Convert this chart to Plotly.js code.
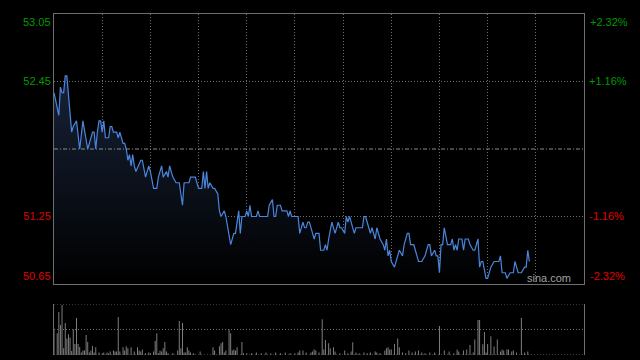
<!DOCTYPE html>
<html>
<head>
<meta charset="utf-8">
<script src="https://cdn.plot.ly/plotly-3.0.1.min.js"></script>
<style>
html,body{margin:0;padding:0;background:#000;}
#chart{width:640px;height:360px;}
</style>
</head>
<body>
<div id="chart"></div>
<script>
// Intraday price (minute index from 09:30, HK session of 330 minutes)
const priceMin = [0,3,4,5,6,7,8,11,12,14,16,17,18,21,23,24,25,26,27,28,29,30,31,32,34,35,36,37,39,40,41,42,43,44,45,46,47,48,49,50,51,54,55,57,59,60,62,64,65,67,68,70,71,72,73,74,76,78,80,81,84,85,88,90,92,93,94,95,96,97,99,100,102,103,104,106,107,110,112,113,115,116,117,119,120,121,122,123,126,127,128,133,134,136,137,138,139,141,142,145,146,147,148,152,153,154,155,156,157,158,159,161,162,163,165,166,168,169,170,171,173,175,176,177,178,179,181,182,183,184,185,187,188,192,193,194,196,197,198,200,201,203,205,206,207,208,209,210,212,213,215,217,218,220,221,222,224,225,226,227,229,231,232,233,234,235,237,238,239,240,241,242,243,245,247,248,249,250,251,252,254,255,256,258,259,261,262,264,265,266,267,269,270,272,274,277,278,279,281,282,284,286,287,289,290,291,293,294,295,296];
const price = [52.35,52.15,52.40,52.35,52.35,52.50,52.50,52.00,52.05,52.10,51.85,52.00,52.10,51.85,51.95,52.00,52.00,51.85,52.00,52.10,52.10,52.00,52.10,51.95,51.95,52.05,52.05,52.00,52.00,51.95,52.00,51.95,51.90,51.90,51.85,51.75,51.80,51.70,51.80,51.70,51.65,51.75,51.75,51.60,51.70,51.65,51.50,51.50,51.60,51.70,51.60,51.65,51.60,51.70,51.65,51.60,51.55,51.55,51.35,51.55,51.55,51.60,51.60,51.50,51.50,51.65,51.50,51.65,51.50,51.55,51.50,51.50,51.45,51.30,51.25,51.30,51.25,51.00,51.10,51.10,51.30,51.10,51.25,51.25,51.30,51.25,51.35,51.25,51.25,51.30,51.25,51.25,51.35,51.40,51.25,51.25,51.35,51.35,51.30,51.30,51.25,51.30,51.25,51.25,51.10,51.15,51.20,51.15,51.15,51.20,51.20,51.10,51.05,51.10,51.10,50.95,50.95,51.00,50.95,51.05,51.20,51.10,51.15,51.20,51.15,51.15,51.10,51.25,51.20,51.25,51.20,51.10,51.15,51.15,51.25,51.25,51.15,51.10,51.15,51.05,51.15,51.05,51.00,50.95,51.05,50.90,50.95,50.85,50.80,50.85,50.95,50.90,51.00,51.10,51.10,51.00,51.00,50.95,50.90,50.85,50.85,50.90,50.95,51.00,51.00,50.90,50.95,50.90,50.90,50.75,51.00,51.00,51.15,51.00,51.00,51.05,50.95,51.00,50.95,51.05,51.05,50.95,51.05,51.05,51.00,50.95,50.95,51.05,50.80,50.85,50.85,50.70,50.70,50.80,50.85,50.85,50.90,50.75,50.75,50.70,50.75,50.75,50.85,50.75,50.75,50.75,50.80,50.80,50.95,50.85];

// Volume bars (minute index, volume)
const volMin = [0,2,3,4,5,6,7,8,9,10,11,12,13,14,15,16,17,18,19,20,21,22,23,24,25,26,28,30,31,33,34,35,37,38,39,40,41,43,44,45,46,48,50,52,53,54,55,57,59,60,62,63,64,65,66,67,68,69,70,71,74,77,78,79,80,81,82,83,84,85,87,91,99,100,103,104,105,106,107,109,110,111,112,113,114,117,118,120,123,126,129,132,135,138,141,144,147,150,152,153,155,157,160,161,162,163,165,167,168,169,171,172,174,175,178,181,183,185,186,188,190,193,195,197,200,201,203,206,207,208,209,210,212,214,215,217,219,221,223,225,227,229,231,234,237,240,243,246,249,251,252,255,257,259,261,262,264,265,267,268,269,270,272,274,276,278,279,280,282,283,285,286,288,291,293,295];
const volume = [100,85,169,118,196,26,125,65,81,69,16,100,43,145,43,31,10,18,18,78,51,10,18,35,10,30,10,7,10,10,7,14,18,14,14,149,14,30,18,34,26,30,14,30,18,14,22,7,10,7,14,55,85,7,18,14,26,51,14,7,7,18,133,26,125,10,10,30,18,10,7,14,30,18,34,46,51,10,18,100,85,18,22,18,30,51,7,7,7,10,7,10,7,10,7,10,7,7,10,18,18,10,10,14,22,18,10,140,22,59,46,26,30,14,7,18,7,14,50,10,7,10,7,10,14,10,7,18,26,30,22,22,43,65,30,10,7,18,10,14,18,10,7,10,10,114,18,14,7,22,14,18,22,39,10,61,137,137,42,90,10,43,74,33,61,14,22,18,22,22,14,18,10,145,10,14];

const prevClose = 51.85;
const priceRange = [50.65, 53.05];
const pctRange = [-2.32, 2.32];
const leftTickVals = [52.45, 51.25];
const leftTickText = ['52.45', '51.25'];
const rightTickVals = [1.16, -1.16];
const rightTickText = ['+1.16%', '-1.16%'];
const edgeLeftText = ['53.05', '50.65'];
const edgeRightText = ['+2.32%', '-2.32%'];
const timeTicks = [30,60,90,120,150,180,210,240,270,300];
const volRange = [0, 200];
const volTicks = [100];

const GREEN = '#009a00', RED = '#e00000';
const col = (t, c) => '<span style="color:' + c + '">' + t + '</span>';
const GRID = '#6e6e6e';
const DOT = '1px,2px';
const FONT = {family: 'Liberation Sans, Arial, sans-serif', size: 11};

const traces = [
  {
    x: priceMin, y: price, type: 'scatter', mode: 'lines',
    line: {color: '#4a86dc', width: 1.2},
    fill: 'tozeroy',
    fillgradient: {type: 'vertical', start: priceRange[0], stop: priceRange[1],
      colorscale: [[0, 'rgb(0,0,0)'], [1, 'rgb(30,44,72)']]},
    xaxis: 'x', yaxis: 'y', hoverinfo: 'skip'
  },
  {x: [], y: [], type: 'scatter', xaxis: 'x', yaxis: 'y2', hoverinfo: 'skip'},
  {
    x: volMin, y: volume, type: 'bar', width: 0.6,
    marker: {color: '#828282', line: {width: 0}},
    xaxis: 'x2', yaxis: 'y3', hoverinfo: 'skip'
  }
];

const layout = {
  width: 640, height: 360,
  paper_bgcolor: '#000', plot_bgcolor: '#000',
  margin: {l: 54, r: 56, t: 14, b: 5},
  showlegend: false,
  font: FONT,
  xaxis: {domain: [0, 1], range: [0, 330], anchor: 'y', tickvals: timeTicks,
    showticklabels: false, ticks: '', showgrid: true, gridcolor: GRID, griddash: DOT,
    zeroline: false, showline: true, mirror: true, linecolor: GRID, linewidth: 1},
  yaxis: {domain: [0.2082, 1], range: priceRange, tickvals: leftTickVals,
    ticktext: [col(leftTickText[0], GREEN), col(leftTickText[1], RED)],
    ticks: '', showgrid: true, gridcolor: GRID, griddash: DOT, zeroline: false,
    showline: true, mirror: true, linecolor: GRID, linewidth: 1, tickfont: FONT},
  yaxis2: {overlaying: 'y', side: 'right', anchor: 'x', range: pctRange, tickvals: rightTickVals,
    ticktext: [col(rightTickText[0], GREEN), col(rightTickText[1], RED)],
    ticks: '', showgrid: false, zeroline: false, showline: false, tickfont: FONT,
    ticklabelstandoff: 4},
  xaxis2: {domain: [0, 1], range: [0, 330], anchor: 'y3', showticklabels: false,
    ticks: '', showgrid: false, zeroline: false, showline: false},
  yaxis3: {domain: [0, 0.1496], range: volRange, anchor: 'x2', tickvals: volTicks,
    showticklabels: false, ticks: '', showgrid: true, gridcolor: GRID, griddash: DOT,
    zeroline: false, showline: true, mirror: true, linecolor: GRID, linewidth: 1},
  shapes: [
    {type: 'line', xref: 'x domain', yref: 'y', x0: 0, x1: 1, y0: prevClose, y1: prevClose,
      line: {color: '#8a8a8a', width: 1, dash: '4px,2px,1px,2px'}},
    {type: 'line', xref: 'x2 domain', yref: 'y3', x0: 0, x1: 1, y0: volRange[1], y1: volRange[1],
      line: {color: GRID, width: 1, dash: DOT}},
    {type: 'line', xref: 'x2 domain', yref: 'y3', x0: 0, x1: 1, y0: volRange[0], y1: volRange[0],
      line: {color: GRID, width: 1, dash: DOT}}
  ],
  annotations: [
    {xref: 'paper', yref: 'y', x: 0, y: priceRange[1], xanchor: 'right', yanchor: 'top',
      text: col(edgeLeftText[0], GREEN), showarrow: false, font: FONT, xshift: -1},
    {xref: 'paper', yref: 'y', x: 0, y: priceRange[0], xanchor: 'right', yanchor: 'bottom',
      text: col(edgeLeftText[1], RED), showarrow: false, font: FONT, xshift: -1},
    {xref: 'paper', yref: 'y', x: 1, y: priceRange[1], xanchor: 'left', yanchor: 'top',
      text: col(edgeRightText[0], GREEN), showarrow: false, font: FONT, xshift: 4},
    {xref: 'paper', yref: 'y', x: 1, y: priceRange[0], xanchor: 'left', yanchor: 'bottom',
      text: col(edgeRightText[1], RED), showarrow: false, font: FONT, xshift: 4},
    {xref: 'paper', yref: 'y', x: 0.979, y: priceRange[0], xanchor: 'right', yanchor: 'bottom',
      text: 'sina.com', showarrow: false, font: {family: FONT.family, size: 11, color: '#a0a0a0'}, yshift: -2}
  ]
};

Plotly.newPlot('chart', traces, layout, {staticPlot: true, displayModeBar: false});
</script>
</body>
</html>
